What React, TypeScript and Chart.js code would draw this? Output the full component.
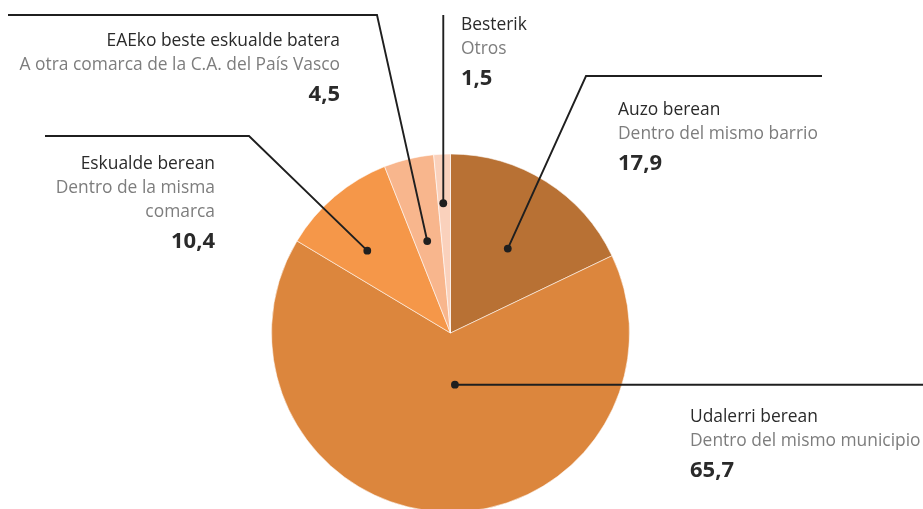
import React, { useEffect, useRef } from "react";
import { Chart, registerables } from "chart.js";

Chart.register(...registerables);

const categoriesEu = ["Auzo berean", "Udalerri berean", "Eskualde berean", "EAEko beste eskualde batera", "Besterik"];
const categoriesEs = [
  ["Dentro del mismo barrio"],
  ["Dentro del mismo municipio"],
  ["Dentro de la misma", "comarca"],
  ["A otra comarca de la C.A. del País Vasco"],
  ["Otros"],
];
const values = [17.9, 65.7, 10.4, 4.5, 1.5];
const sliceColors = ["#B87134", "#DC863D", "#F59749", "#F8B68D", "#FAD1BC"];

// label layout: anchor inside slice (fraction of slice angle, fraction of radius), leader path, text block
const labelLayout = [
  { af: 0.53, rf: 0.57, path: [[586, 76], [822, 76]], x: 618, align: "left", y: 115 },
  { af: 0.468, rf: 0.29, path: [[923, null]], x: 690, align: "left", y: 422 },
  { af: 0.367, rf: 0.654, path: [[249, 136], [45, 136]], x: 215, align: "right", y: 169 },
  { af: 0.457, rf: 0.53, path: [[377, 15], [8, 15]], x: 340, align: "right", y: 46 },
  { af: 0.41, rf: 0.726, path: [[null, 15]], x: 461, align: "left", y: 30 },
];

const FONT = "'Open Sans', 'Noto Sans', sans-serif";

const leaderPlugin = {
  id: "leaders",
  afterDraw(chart: any) {
    const ctx = chart.ctx;
    const meta = chart.getDatasetMeta(0);
    ctx.save();
    meta.data.forEach((arc: any, i: number) => {
      const L = labelLayout[i];
      const a = arc.startAngle + L.af * (arc.endAngle - arc.startAngle);
      const r = arc.outerRadius * L.rf;
      const dx = arc.x + Math.cos(a) * r;
      const dy = arc.y + Math.sin(a) * r;
      ctx.strokeStyle = "#1f1f1f";
      ctx.lineWidth = 1.9;
      ctx.beginPath();
      ctx.moveTo(dx, dy);
      L.path.forEach((p: any) => {
        const px = p[0] === null ? dx : p[0];
        const py = p[1] === null ? dy : p[1];
        ctx.lineTo(px, py);
      });
      ctx.stroke();
      ctx.fillStyle = "#1f1f1f";
      ctx.beginPath();
      ctx.arc(dx, dy, 3.9, 0, Math.PI * 2);
      ctx.fill();

      ctx.textAlign = L.align;
      ctx.textBaseline = "alphabetic";
      let y = L.y;
      ctx.font = `400 17.4px ${FONT}`;
      ctx.fillStyle = "#2a2a2a";
      ctx.fillText(categoriesEu[i], L.x, y);
      ctx.fillStyle = "#7d7d7d";
      categoriesEs[i].forEach((line) => {
        y += 24;
        ctx.fillText(line, L.x, y);
      });
      y += 31;
      ctx.font = `700 22px ${FONT}`;
      ctx.fillStyle = "#2a2a2a";
      ctx.fillText(values[i].toFixed(1).replace(".", ","), L.x, y);
    });
    ctx.restore();
  },
};

export default function App() {
  const ref = useRef<HTMLCanvasElement | null>(null);
  useEffect(() => {
    if (!ref.current) return;
    const chart = new Chart(ref.current, {
      type: "pie",
      data: {
        labels: categoriesEu,
        datasets: [
          {
            data: values,
            backgroundColor: sliceColors,
            borderColor: "rgba(255,255,255,0.7)",
            borderWidth: 0.8,
            radius: 179,
          } as any,
        ],
      },
      options: {
        animation: false,
        responsive: true,
        maintainAspectRatio: false,
        layout: { padding: { left: 0, right: 22, top: 157, bottom: 0 } },
        plugins: { legend: { display: false }, tooltip: { enabled: false } },
      },
      plugins: [leaderPlugin],
    });
    return () => chart.destroy();
  }, []);
  return (
    <div style={{ position: "absolute", left: 0, top: 0, width: 923, height: 509, overflow: "hidden", background: "#fff" }}>
      <canvas ref={ref} />
    </div>
  );
}
